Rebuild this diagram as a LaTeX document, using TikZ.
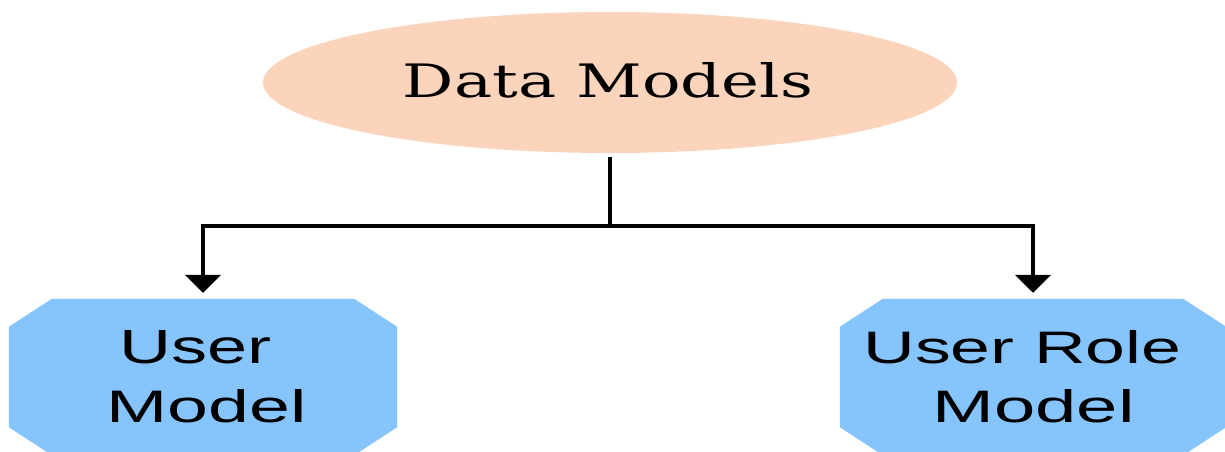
\documentclass[tikz,border=0pt]{standalone}
\usepackage{fontspec}
\setmainfont{DejaVu Serif}
\setsansfont{Liberation Sans}
\usetikzlibrary{calc,arrows.meta,shapes.geometric}
\definecolor{peach}{RGB}{252,212,188}
\definecolor{octblue}{RGB}{133,196,252}
\tikzset{
  ovalbox/.style={ellipse, fill=peach, draw=none, inner sep=0pt, minimum width=694pt, minimum height=141pt},
  octframe/.style={rectangle, draw=none, inner sep=0pt, minimum width=388pt, minimum height=156pt},
  lbl/.style={anchor=base, inner sep=0pt},
  conn/.style={line width=4.5pt, black},
  arr/.style={conn, -{Triangle[length=18pt,width=35pt]}, shorten >=6pt}
}
\newcommand{\octfill}[1]{%
  \fill[octblue] ($(#1.north west)+(43pt,0pt)$) -- ($(#1.north east)+(-43pt,0pt)$)
    -- ($(#1.north east)+(0pt,-28pt)$) -- ($(#1.south east)+(0pt,28pt)$)
    -- ($(#1.south east)+(-43pt,0pt)$) -- ($(#1.south west)+(43pt,0pt)$)
    -- ($(#1.south west)+(0pt,28pt)$) -- ($(#1.north west)+(0pt,-28pt)$) -- cycle;}
\begin{document}
\begin{tikzpicture}[x=1pt,y=-1pt]
\useasboundingbox (0,0) rectangle (1225,451);
\node[ovalbox] (dm) at (610,82.5) {};
\node[lbl] (dmt) at (608,97) {\resizebox{410pt}{35pt}{Data Models}};
\node[octframe] (um) at (203,377) {};
\node[octframe, minimum width=386pt] (rm) at (1033,377) {};
\octfill{um}
\octfill{rm}
\node[lbl] (u1) at (195.5,363) {\resizebox{152pt}{33pt}{\sffamily User}};
\node[lbl] (u2) at (206.5,422) {\resizebox{200pt}{33pt}{\sffamily Model}};
\node[lbl] (r1) at (1022.5,363) {\resizebox{318pt}{33pt}{\sffamily User Role}};
\node[lbl] (r2) at (1033.5,422) {\resizebox{202pt}{33pt}{\sffamily Model}};
\coordinate (j) at (610,226);
\draw[conn, shorten <=4pt] (dm.south) -- (j);
\draw[arr] (j) -| (um.north);
\draw[arr] (j) -| (rm.north);
\end{tikzpicture}
\end{document}
